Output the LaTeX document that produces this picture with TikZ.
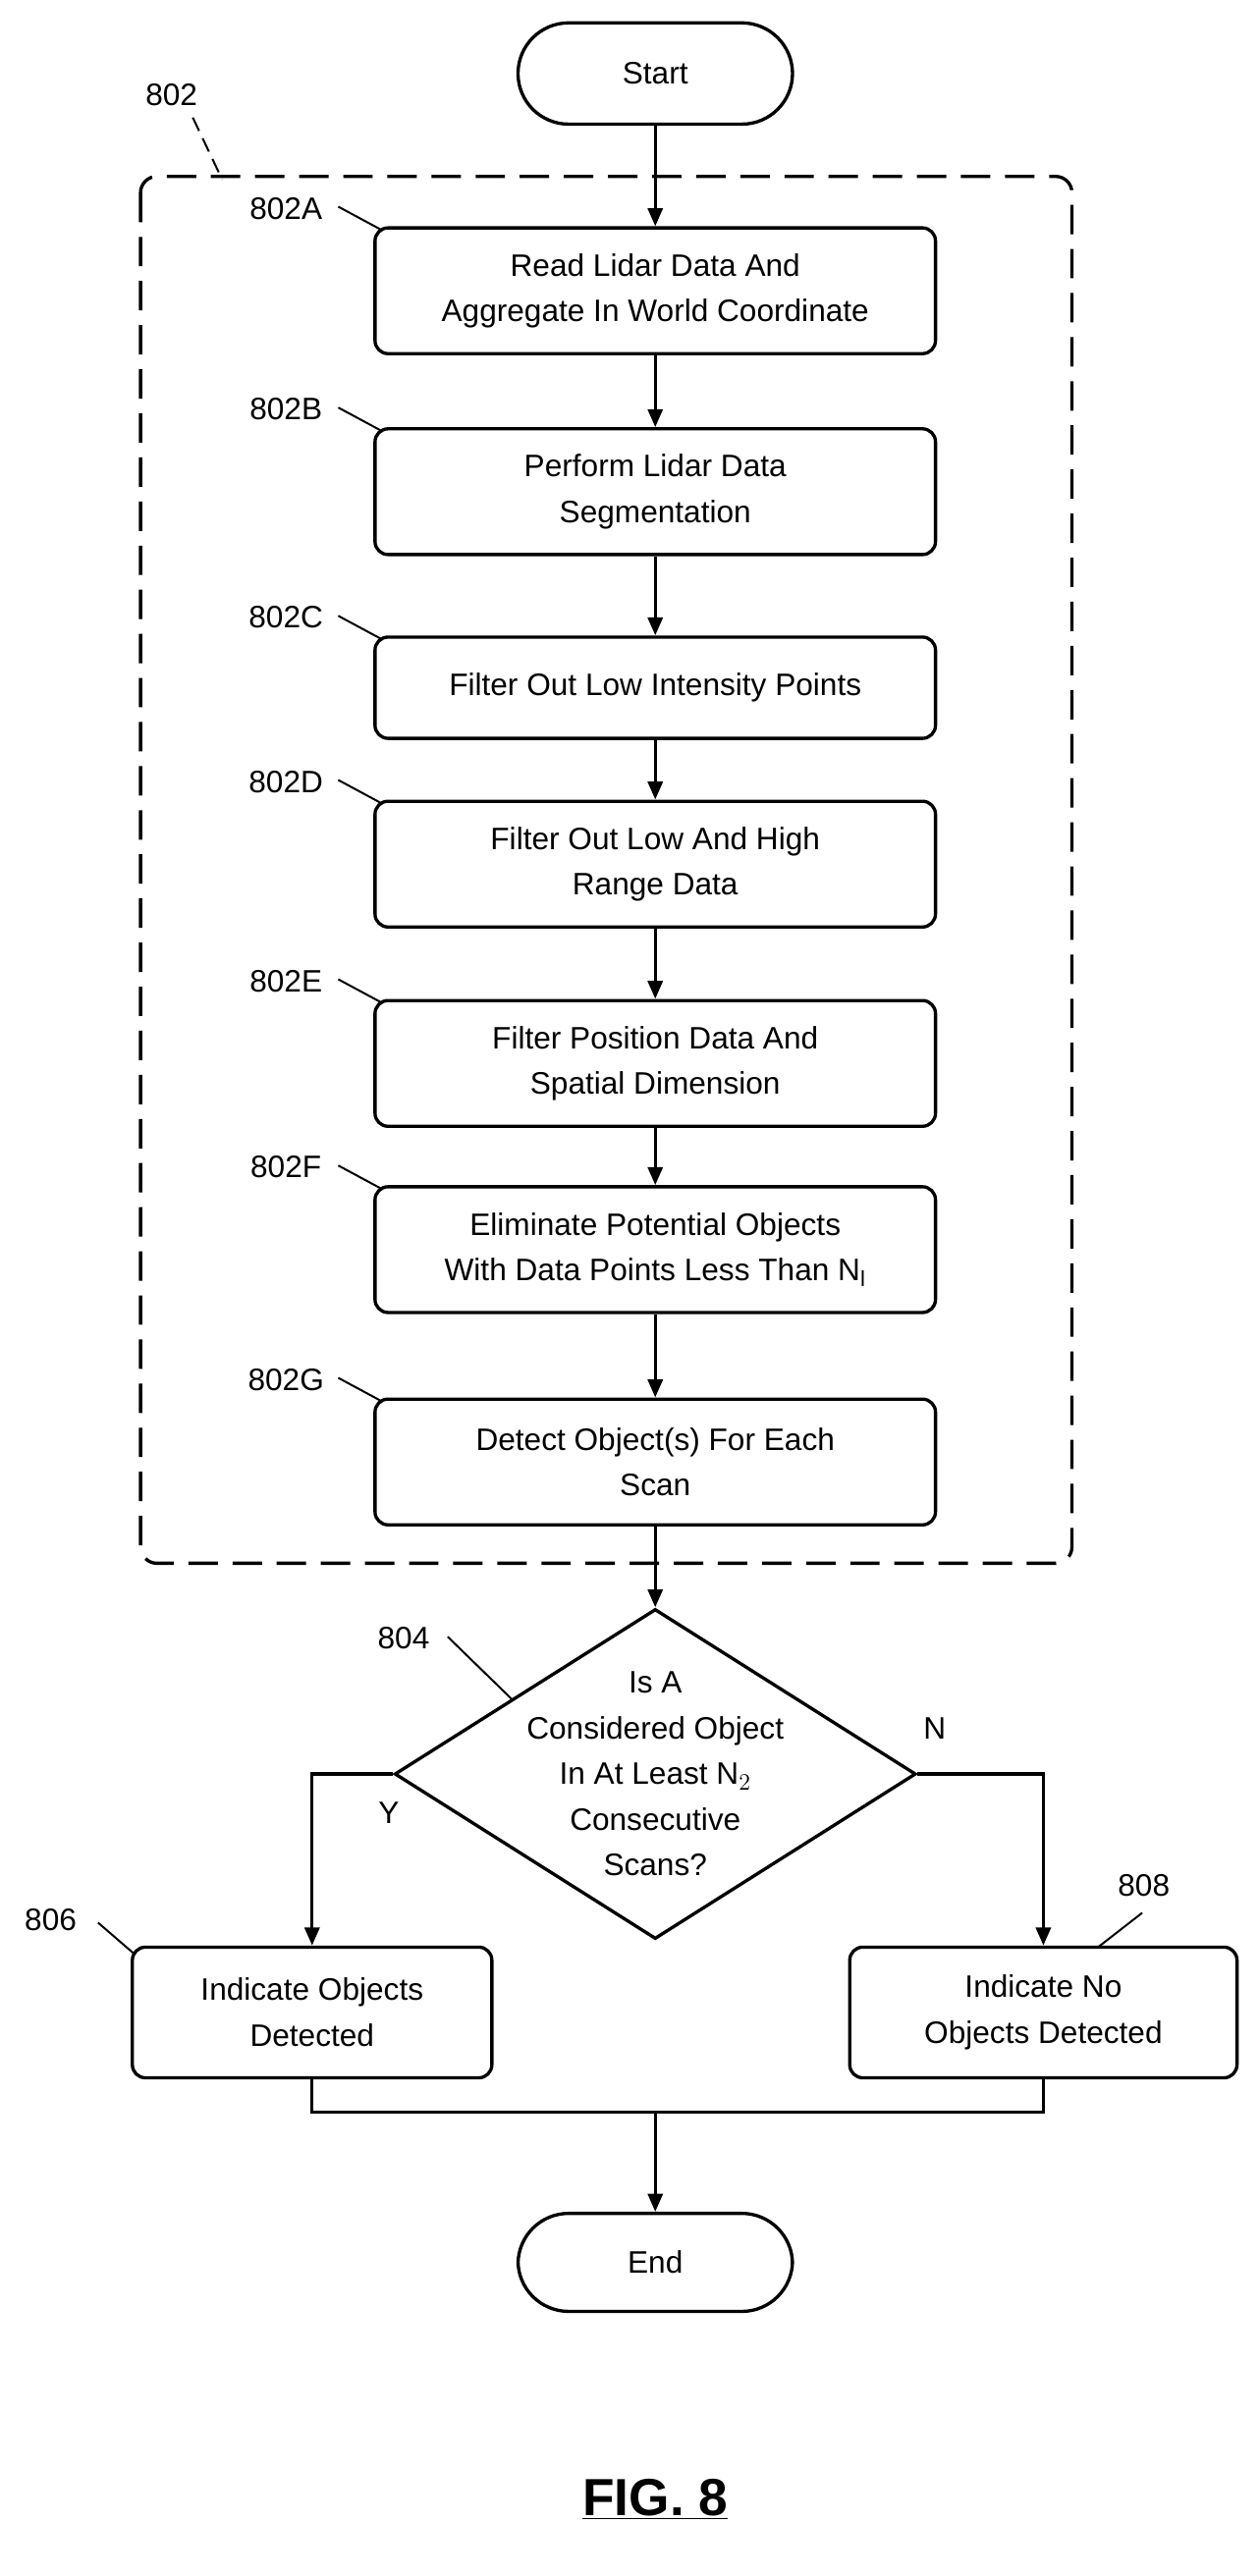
\documentclass[tikz,border=0pt]{standalone}
\usepackage{fontspec}
\setmainfont{Liberation Sans}
\usetikzlibrary{arrows.meta,shapes.geometric}
\begin{document}
\begin{tikzpicture}[x=1pt,y=-1pt,
  every node/.style={font=\fontsize{19}{28}\selectfont},
  box/.style={draw,line width=2pt,rounded corners=8pt,align=center,inner sep=0pt},
  term/.style={draw,line width=2pt,rounded corners=31pt,minimum width=168pt,minimum height=62pt},
  arr/.style={line width=2pt,-{Triangle[length=11pt,width=9pt]}},
  ln/.style={line width=2pt},
  lead/.style={line width=1.2pt},
  lbl/.style={inner sep=0pt}]
\useasboundingbox (0,0) rectangle (770,1577);
\node[term] (start) at (401,45) {Start};
\draw[line width=2pt,dash pattern=on 18pt off 9pt,rounded corners=10pt] (86,108) rectangle (656,957);
\node[lbl] (l802) at (105,58) {802};
\coordinate (l802e) at (136,110);
\draw[lead,dash pattern=on 9pt off 5pt] (118,72) -- (l802e);

\newcommand{\stepbox}[5]{%
 \node[box,minimum width=343pt,minimum height=#3pt] (#1) at (401,#2) {#4};
 \node[lbl] (l#1) at (175,#2-#3/2-12) {#5};
 \draw[lead] (207,#2-#3/2-13) -- (233,#2-#3/2+1);}
\stepbox{a}{178}{77}{Read Lidar Data And\\Aggregate In World Coordinate}{802A}
\stepbox{b}{301}{77}{Perform Lidar Data\\Segmentation}{802B}
\stepbox{c}{421}{62}{Filter Out Low Intensity Points}{802C}
\stepbox{d}{529}{77}{Filter Out Low And High\\Range Data}{802D}
\stepbox{e}{651}{77}{Filter Position Data And\\Spatial Dimension}{802E}
\stepbox{f}{765}{77}{Eliminate Potential Objects\\With Data Points Less Than N$_{\mathrm{l}}$}{802F}
\stepbox{g}{895}{77}{Detect Object(s) For Each\\Scan}{802G}
\draw[arr] (start) -- (a);
\draw[arr] (a) -- (b);
\draw[arr] (b) -- (c);
\draw[arr] (c) -- (d);
\draw[arr] (d) -- (e);
\draw[arr] (e) -- (f);
\draw[arr] (f) -- (g);

\node[diamond,draw,line width=2pt,minimum width=319pt,minimum height=202pt,inner sep=0pt] (dec) at (401,1086) {};
\node[align=center] (dect) at (401,1086) {Is A\\Considered Object\\In At Least N$_2$\\Consecutive\\Scans?};
\draw[arr] (g) -- (dec);
\node[lbl] (l804) at (247,1003) {804};
\draw[lead] (274,1002) -- (313,1040);

\node[box,minimum width=220pt,minimum height=80pt] (yes) at (191,1232) {Indicate Objects\\Detected};
\node[box,minimum width=237pt,minimum height=80pt] (no) at (638.5,1232) {Indicate No\\Objects Detected};
\node[lbl] (l806) at (31,1175) {806};
\draw[lead] (60,1177) -- (82,1196);
\node[lbl] (l808) at (700,1154) {808};
\draw[lead] (699,1171) -- (672,1192);

\draw[arr] (dec.west) -| (yes.north);
\draw[arr] (dec.east) -| (no.north);
\node[lbl] (ly) at (238,1110) {Y};
\node[lbl] (ln) at (572,1058) {N};

\node[term,minimum height=60pt] (end) at (401,1385) {End};
\coordinate (m) at (401,1293);
\draw[ln] (yes.south) |- (m) -| (no.south);
\draw[arr] (m) -- (end);

\node[font=\fontsize{32}{36}\selectfont\bfseries] (fig) at (401,1530) {\underline{FIG. 8}};
\end{tikzpicture}
\end{document}
